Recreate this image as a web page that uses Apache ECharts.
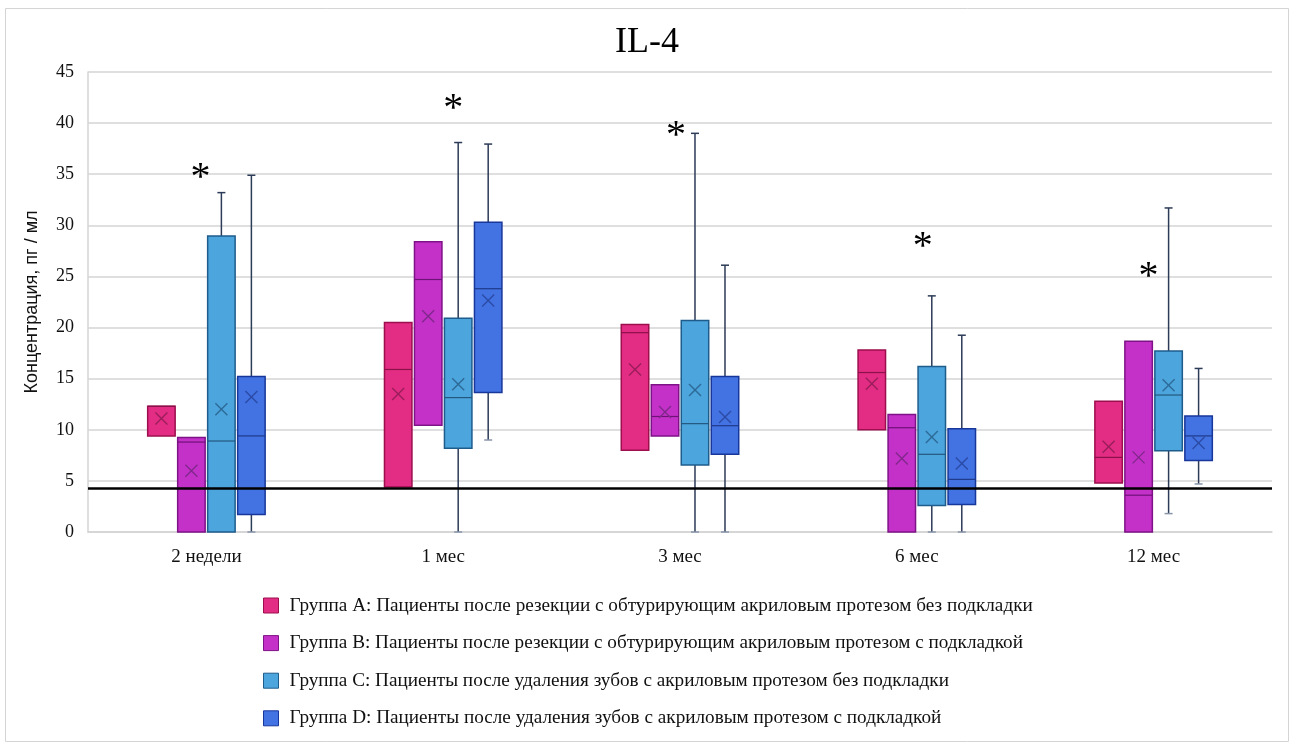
<!DOCTYPE html>
<html>
<head>
<meta charset="utf-8">
<script src="https://cdn.jsdelivr.net/npm/echarts@6/dist/echarts.min.js"></script>
<style>
html,body{margin:0;padding:0;background:#fff;}
#chart{width:1294px;height:751px;}
</style>
</head>
<body>
<div id="chart"></div>
<script>
// ---------- DATA ----------
const categories = ['2 недели', '1 мес', '3 мес', '6 мес', '12 мес'];
const groupNames = [
  'Группа A: Пациенты после резекции с обтурирующим акриловым протезом без подкладки',
  'Группа B: Пациенты после резекции с обтурирующим акриловым протезом с подкладкой',
  'Группа C: Пациенты после удаления зубов с акриловым протезом без подкладки',
  'Группа D: Пациенты после удаления зубов с акриловым протезом с подкладкой'
];
// [min, Q1, median, Q3, max] per category
const boxA = [[9.4, 9.4, 12.3, 12.3, 12.3], [4.4, 4.4, 15.9, 20.5, 20.5], [8.0, 8.0, 19.5, 20.3, 20.3], [10.0, 10.0, 15.6, 17.8, 17.8], [4.8, 4.8, 7.3, 12.8, 12.8]];
const boxB = [[0, 0, 8.8, 9.25, 9.25], [10.45, 10.45, 24.7, 28.4, 28.4], [9.4, 9.4, 11.3, 14.4, 14.4], [0, 0, 10.2, 11.5, 11.5], [0, 0, 3.6, 18.65, 18.65]];
const boxC = [[0, 0, 8.9, 28.95, 33.2], [0, 8.2, 13.15, 20.9, 38.1], [0, 6.55, 10.6, 20.7, 39.0], [0, 2.6, 7.6, 16.2, 23.1], [1.8, 7.95, 13.4, 17.7, 31.7]];
const boxD = [[0, 1.7, 9.4, 15.2, 34.9], [9.0, 13.65, 23.8, 30.3, 37.95], [0, 7.6, 10.4, 15.2, 26.1], [0, 2.7, 5.15, 10.1, 19.25], [4.7, 7.0, 9.4, 11.35, 16.0]];
const meanA = [11.1, 13.5, 15.9, 14.5, 8.35];
const meanB = [6.0, 21.1, 11.75, 7.2, 7.3];
const meanC = [12.0, 14.45, 13.9, 9.3, 14.35];
const meanD = [13.2, 22.65, 11.25, 6.7, 8.7];
const asteriskValues = [35.5, 42.2, 39.6, 28.7, 25.8];
const referenceLevel = 4.3;
const yTicks = [0, 5, 10, 15, 20, 25, 30, 35, 40, 45];

// ---------- STYLE ----------
const fills = ['#E32C83', '#C431C8', '#4CA5DC', '#4373E3'];
const borders = ['#9C0E4E', '#7E1287', '#1E5C8C', '#17379A'];
const meanColors = ['#9A1E5C', '#80288C', '#2D6A98', '#2B4BA5'];
const medianColors = ['#8A1248', '#6E1278', '#24577E', '#1E3A8A'];
const OFFSETS = [-0.19, -0.0633, 0.0633, 0.19];
const BOXW = 0.116;
const STAR_DX = [-6, 10, -4, 6, -5];
const serif = '"Liberation Serif", "Times New Roman", serif';

const boxes = [boxA, boxB, boxC, boxD];
const means = [meanA, meanB, meanC, meanD];

function makeRender(s) {
  return function (params, api) {
    const ci = api.value(0);
    const vmin = api.value(1), q1 = api.value(2), med = api.value(3), q3 = api.value(4), vmax = api.value(5), mean = api.value(6);
    const band = api.size([1, 0])[0];
    const cx = api.coord([ci, 0])[0] + band * OFFSETS[s];
    const w = band * BOXW;
    const y = v => api.coord([ci, v])[1];
    const children = [];
    const wStyle = { stroke: '#2C3B57', lineWidth: 1.5 };
    const cap = 4;
    if (vmax > q3) {
      children.push({ type: 'line', shape: { x1: cx, y1: y(vmax), x2: cx, y2: y(q3) }, style: wStyle });
      children.push({ type: 'line', shape: { x1: cx - cap, y1: y(vmax), x2: cx + cap, y2: y(vmax) }, style: wStyle });
    }
    if (vmin < q1) {
      children.push({ type: 'line', shape: { x1: cx, y1: y(q1), x2: cx, y2: y(vmin) }, style: wStyle });
      children.push({ type: 'line', shape: { x1: cx - cap, y1: y(vmin), x2: cx + cap, y2: y(vmin) }, style: { stroke: '#8795AA', lineWidth: 1.5 } });
    }
    children.push({
      type: 'rect',
      shape: { x: cx - w / 2, y: y(q3), width: w, height: y(q1) - y(q3) },
      style: { fill: fills[s], stroke: borders[s], lineWidth: 1.5 }
    });
    children.push({ type: 'line', shape: { x1: cx - w / 2, y1: y(med), x2: cx + w / 2, y2: y(med) }, style: { stroke: medianColors[s], lineWidth: 1.2 } });
    const my = y(mean), m = 6;
    children.push({ type: 'line', shape: { x1: cx - m, y1: my - m, x2: cx + m, y2: my + m }, style: { stroke: meanColors[s], lineWidth: 1.4 } });
    children.push({ type: 'line', shape: { x1: cx - m, y1: my + m, x2: cx + m, y2: my - m }, style: { stroke: meanColors[s], lineWidth: 1.4 } });
    return { type: 'group', children: children };
  };
}

const series = boxes.map((b, s) => ({
  type: 'custom',
  name: groupNames[s],
  renderItem: makeRender(s),
  itemStyle: { color: fills[s], borderColor: borders[s] },
  encode: { x: 0, y: [1, 2, 3, 4, 5, 6] },
  data: b.map((row, i) => [i, row[0], row[1], row[2], row[3], row[4], means[s][i]]),
  z: 3,
  markLine: s === 0 ? {
    silent: true,
    symbol: 'none',
    label: { show: false },
    lineStyle: { color: '#000', width: 2.5, type: 'solid' },
    data: [{ yAxis: referenceLevel }]
  } : undefined
}));

series.push({
  type: 'custom',
  name: 'stars',
  renderItem: function (params, api) {
    const ci = api.value(0);
    const p = api.coord([ci, api.value(1)]);
    return {
      type: 'text',
      x: p[0] + STAR_DX[params.dataIndex],
      y: p[1] + 9,
      style: { text: '*', font: '40px ' + serif, fill: '#000', align: 'center', verticalAlign: 'middle' }
    };
  },
  encode: { x: 0, y: 1 },
  data: asteriskValues.map((v, i) => [i, v]),
  z: 5
});

const chart = echarts.init(document.getElementById('chart'));
chart.setOption({
  backgroundColor: '#fff',
  animation: false,
  title: {
    text: 'IL-4',
    left: 'center',
    top: 20,
    textStyle: { fontFamily: serif, fontSize: 36, fontWeight: 'normal', color: '#000' }
  },
  graphic: [{
    type: 'rect',
    shape: { x: 5.5, y: 8.5, width: 1283, height: 733 },
    style: { fill: 'none', stroke: '#d4d4d4', lineWidth: 1 },
    z: -10
  }],
  legend: {
    orient: 'vertical',
    left: 258,
    top: 591,
    itemWidth: 15,
    itemHeight: 15,
    itemGap: 18.6,
    icon: 'rect',
    data: groupNames.map((n, s) => ({ name: n, itemStyle: { color: fills[s], borderColor: borders[s], borderWidth: 1 } })),
    textStyle: { fontFamily: serif, fontSize: 19.2, color: '#111', padding: [0, 0, 0, 6] }
  },
  grid: { left: 88, right: 22, top: 72, bottom: 219 },
  xAxis: {
    type: 'category',
    data: categories,
    axisLine: { show: true, lineStyle: { color: '#d4d4d4', width: 1.5 } },
    axisTick: { show: false },
    splitLine: { show: false },
    axisLabel: { fontFamily: serif, fontSize: 19, color: '#111', margin: 16 }
  },
  yAxis: {
    type: 'value',
    min: yTicks[0],
    max: yTicks[yTicks.length - 1],
    interval: 5,
    name: 'Концентрация, пг / мл',
    nameLocation: 'middle',
    nameGap: 47,
    nameTextStyle: { fontFamily: '"Liberation Sans", Arial, sans-serif', fontSize: 18, color: '#111' },
    axisLine: { show: true, lineStyle: { color: '#d4d4d4', width: 1.5 } },
    axisTick: { show: false },
    splitLine: { show: true, lineStyle: { color: '#d4d4d4', width: 1.5 } },
    axisLabel: { fontFamily: serif, fontSize: 18, color: '#111', margin: 14 }
  },
  series: series
});
</script>
</body>
</html>
